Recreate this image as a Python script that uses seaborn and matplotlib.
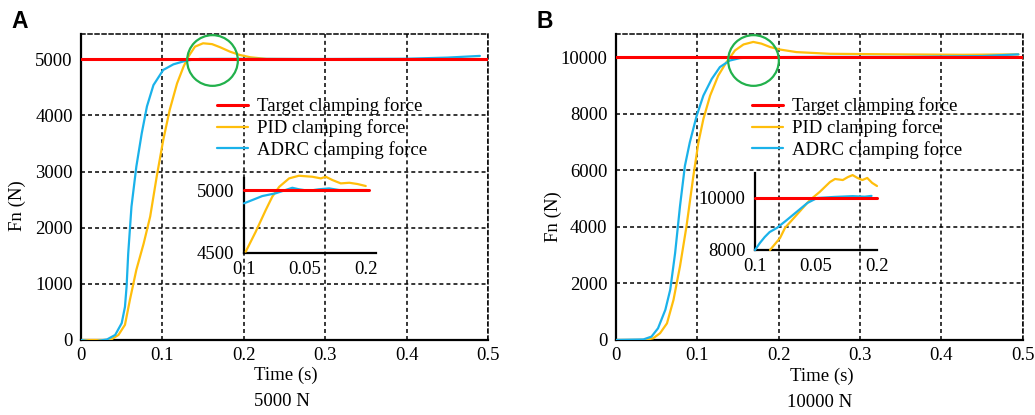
import matplotlib
matplotlib.use("Agg")
import matplotlib.pyplot as plt
import seaborn as sns
import numpy as np

# ---- Panel A: 5000 N step ----
a_target_t = [0.0, 0.5]
a_target_v = [5000, 5000]
a_pid_t = [0.0, 0.036, 0.046, 0.054, 0.060, 0.068, 0.077, 0.085, 0.093, 0.101, 0.109,
           0.118, 0.126, 0.132, 0.140, 0.150, 0.161, 0.171, 0.183, 0.195, 0.208, 0.228,
           0.30, 0.40, 0.49]
a_pid_v = [0, 0, 90, 270, 710, 1250, 1720, 2200, 2910, 3560, 4100,
           4570, 4870, 5050, 5225, 5285, 5270, 5214, 5136, 5077, 5036, 5006,
           5000, 5000, 5005]
a_adrc_t = [0.0, 0.015, 0.032, 0.042, 0.050, 0.054, 0.056, 0.058, 0.062, 0.068, 0.0746,
            0.081, 0.089, 0.101, 0.1135, 0.130, 0.146, 0.20, 0.30, 0.40, 0.45, 0.49]
a_adrc_v = [0, -30, 10, 90, 300, 590, 950, 1540, 2375, 3090, 3680,
            4160, 4540, 4810, 4910, 4980, 5006, 5008, 5005, 5010, 5030, 5060]

# zoomed detail of panel A
a_in_target_t = [0.1, 0.2025]
a_in_target_v = [5000, 5000]
a_in_pid_t = [0.1014, 0.1096, 0.1178, 0.1232, 0.1289, 0.137, 0.145, 0.156, 0.163, 0.167,
              0.1724, 0.1793, 0.1863, 0.193, 0.1998]
a_in_pid_v = [4508, 4667, 4840, 4947, 5026, 5093, 5114, 5106, 5093, 5106,
              5080, 5053, 5058, 5048, 5032]
a_in_adrc_t = [0.1, 0.1068, 0.115, 0.126, 0.134, 0.1396, 0.145, 0.153, 0.1615, 0.1697,
               0.178, 0.19, 0.201]
a_in_adrc_v = [4894, 4920, 4952, 4974, 5000, 5018, 5006, 4994, 5006, 5013,
               5000, 5000, 5000]

# ---- Panel B: 10000 N step ----
b_target_t = [0.0, 0.5]
b_target_v = [10000, 10000]
b_pid_t = [0.0, 0.036, 0.046, 0.0545, 0.063, 0.071, 0.079, 0.087, 0.0954, 0.1016, 0.1077,
           0.116, 0.126, 0.136, 0.1466, 0.157, 0.169, 0.179, 0.1896, 0.202, 0.222, 0.263,
           0.345, 0.427, 0.4947]
b_pid_v = [0, 0, 60, 240, 590, 1420, 2610, 4030, 5800, 6990, 7820,
           8650, 9360, 9830, 10250, 10460, 10550, 10490, 10370, 10280, 10190, 10130,
           10110, 10095, 10110]
b_adrc_t = [0.0, 0.034, 0.044, 0.052, 0.061, 0.067, 0.073, 0.079, 0.085, 0.091, 0.0995,
            0.1077, 0.118, 0.128, 0.140, 0.153, 0.173, 0.25, 0.35, 0.45, 0.4947]
b_adrc_v = [0, 20, 120, 415, 1070, 1780, 3080, 4740, 6160, 6990, 7940,
            8650, 9240, 9660, 9890, 9980, 10010, 10020, 10020, 10050, 10110]

# zoomed detail of panel B
b_in_target_t = [0.1, 0.2]
b_in_target_v = [10000, 10000]
b_in_pid_t = [0.1123, 0.1205, 0.1246, 0.145, 0.153, 0.1615, 0.1656, 0.172, 0.176, 0.180,
              0.184, 0.188, 0.192, 0.196, 0.200]
b_in_pid_v = [8000, 8460, 8850, 9920, 10230, 10615, 10730, 10690, 10800, 10880,
              10770, 10690, 10770, 10580, 10460]
b_in_adrc_t = [0.1, 0.104, 0.108, 0.112, 0.118, 0.126, 0.134, 0.143, 0.151, 0.165,
               0.180, 0.190, 0.1955]
b_in_adrc_v = [8000, 8270, 8500, 8690, 8850, 9150, 9460, 9810, 10000, 10040,
               10070, 10050, 10080]

x_ticks = [0, 0.1, 0.2, 0.3, 0.4, 0.5]
x_tick_labels = ["0", "0.1", "0.2", "0.3", "0.4", "0.5"]
a_y_ticks = [0, 1000, 2000, 3000, 4000, 5000]
b_y_ticks = [0, 2000, 4000, 6000, 8000, 10000]
legend_labels = ["Target clamping force", "PID clamping force", "ADRC clamping force"]

RED = "#FF0000"
GOLD = "#FFBE0B"
BLUE = "#1AB2EA"
GREEN = "#22B14C"
DASH = (0, (2.6, 2.0))

sns.set_theme(style="white")
plt.rcParams["font.family"] = ["Liberation Serif", "DejaVu Serif"]
plt.rcParams["text.color"] = "black"
plt.rcParams["axes.labelcolor"] = "black"
plt.rcParams["xtick.color"] = "black"
plt.rcParams["ytick.color"] = "black"
FS = 13.5

fig = plt.figure(figsize=(10.35, 4.15), dpi=100)


def main_axes(rect, ylim, yticks, series, circle, ylab_xy, xlab_xy):
    ax = fig.add_axes(rect)
    ax.set_facecolor("none")
    (tt, tv), (pt, pv), (at, av) = series
    sns.lineplot(x=tt, y=tv, ax=ax, color=RED, lw=2.2, label=legend_labels[0], zorder=4)
    sns.lineplot(x=pt, y=pv, ax=ax, color=GOLD, lw=1.6, label=legend_labels[1], zorder=3)
    sns.lineplot(x=at, y=av, ax=ax, color=BLUE, lw=1.6, label=legend_labels[2], zorder=3)
    ax.plot([circle[0]], [circle[1]], marker="o", markersize=36.5, mfc="none",
            mec=GREEN, mew=1.6, zorder=5)
    ax.set_xlim(0, 0.5)
    ax.set_ylim(*ylim)
    ax.set_xticks(x_ticks)
    ax.set_xticklabels(x_tick_labels)
    ax.set_yticks(yticks)
    ax.tick_params(length=0, labelsize=FS, colors="black", pad=5)
    ax.tick_params(axis="y", pad=6)
    ax.grid(True, color="black", linestyle=DASH, lw=1.1)
    for s in ["left", "bottom"]:
        ax.spines[s].set_color("black")
        ax.spines[s].set_linewidth(1.6)
    for s in ["top", "right"]:
        ax.spines[s].set_color("black")
        ax.spines[s].set_linewidth(1.1)
        ax.spines[s].set_linestyle(DASH)
    ax.set_xlabel("Time (s)", fontsize=FS, color="black")
    ax.set_ylabel("Fn (N)", fontsize=FS, color="black")
    ax.yaxis.set_label_coords(*ylab_xy)
    ax.xaxis.set_label_coords(*xlab_xy)
    ax.xaxis.label.set_va("center")
    ax.yaxis.label.set_va("center")
    leg = ax.legend(loc="center left", bbox_to_anchor=(0.334, 0.693), frameon=False,
                    fontsize=FS, borderpad=0, handlelength=1.65, handletextpad=0.48,
                    labelspacing=0.2, borderaxespad=0)
    for txt in leg.get_texts():
        txt.set_color("black")
    return ax


def inset_axes(rect, xlim, ylim, xticks, xlabels, yticks, series):
    ax = fig.add_axes(rect)
    ax.set_facecolor("none")
    (tt, tv), (pt, pv), (at, av) = series
    for t, v, c, lw, z in [(tt, tv, RED, 2.2, 4), (pt, pv, GOLD, 1.6, 3), (at, av, BLUE, 1.6, 3)]:
        sns.lineplot(x=t, y=v, ax=ax, color=c, lw=lw, zorder=z, clip_on=False, legend=False)
    ax.set_xlim(*xlim)
    ax.set_ylim(*ylim)
    ax.set_xticks(xticks)
    ax.set_xticklabels(xlabels)
    ax.set_yticks(yticks)
    ax.tick_params(axis="x", direction="in", length=5, width=1.3, colors="black",
                   labelsize=FS, pad=6)
    ax.tick_params(axis="y", length=0, labelsize=FS, colors="black", pad=7)
    ax.grid(False)
    for s in ["top", "right"]:
        ax.spines[s].set_visible(False)
    for s in ["left", "bottom"]:
        ax.spines[s].set_color("black")
        ax.spines[s].set_linewidth(1.6)
    ax.set_xlabel("")
    ax.set_ylabel("")
    return ax


W, H = 1035, 415
bottom = 1 - 340 / H
height = (340 - 34.3) / H
width = 407 / W

axA = main_axes([81 / W, bottom, width, height], (0, 5445), a_y_ticks,
                [(a_target_t, a_target_v), (a_pid_t, a_pid_v), (a_adrc_t, a_adrc_v)],
                (0.161, 4990), (-0.156, 0.441), (0.504, -0.114))
axB = main_axes([615.7 / W, bottom, width, height], (0, 10820), b_y_ticks,
                [(b_target_t, b_target_v), (b_pid_t, b_pid_v), (b_adrc_t, b_adrc_v)],
                (0.169, 9920), (-0.153, 0.402), (0.506, -0.118))

inA = inset_axes([244 / W, 1 - 252.7 / H, 132 / W, (252.7 - 178) / H],
                 (0.1, 0.2082), (4500, 5096),
                 [0.1, 0.125, 0.15, 0.175, 0.2], ["0.1", "", "0.05", "", "0.2"],
                 [4500, 5000],
                 [(a_in_target_t, a_in_target_v), (a_in_pid_t, a_in_pid_v),
                  (a_in_adrc_t, a_in_adrc_v)])
inB = inset_axes([755 / W, 1 - 250 / H, 122 / W, (250 - 173) / H],
                 (0.1, 0.2), (8000, 10960),
                 [0.1, 0.15, 0.2], ["0.1", "0.05", "0.2"],
                 [8000, 10000],
                 [(b_in_target_t, b_in_target_v), (b_in_pid_t, b_in_pid_v),
                  (b_in_adrc_t, b_in_adrc_v)])

fig.text(282 / W, 1 - 401 / H, "5000 N", ha="center", va="center", fontsize=FS)
fig.text(820 / W, 1 - 402 / H, "10000 N", ha="center", va="center", fontsize=FS)
fig.text(11 / W, 1 - 10 / H, "A", ha="left", va="top", fontsize=16.5, fontweight="bold",
         color="black", family=["Liberation Sans", "DejaVu Sans"])
fig.text(536 / W, 1 - 10 / H, "B", ha="left", va="top", fontsize=16.5, fontweight="bold",
         color="black", family=["Liberation Sans", "DejaVu Sans"])

fig.savefig("out.png", dpi=100)
